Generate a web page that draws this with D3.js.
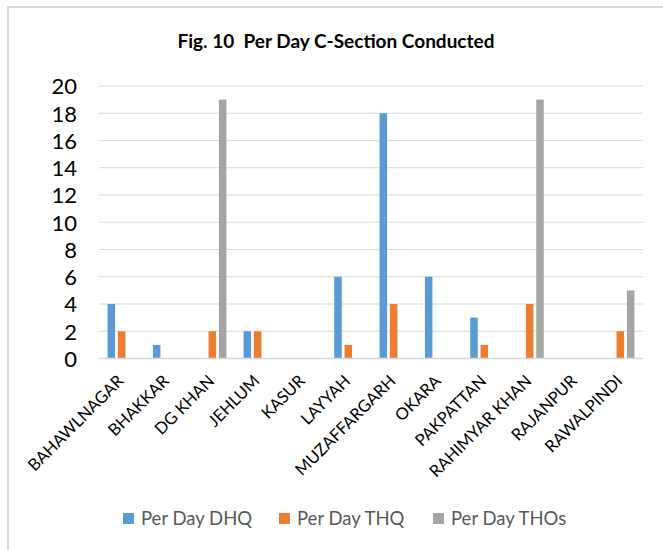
<!DOCTYPE html>
<html><head><meta charset="utf-8">
<script src="https://cdn.jsdelivr.net/npm/d3@7"></script>
<style>body{margin:0;background:#fff}svg{display:block}</style>
</head><body>
<svg id="c" width="663" height="550"></svg>
<script>
const categories = ["BAHAWLNAGAR","BHAKKAR","DG KHAN","JEHLUM","KASUR","LAYYAH","MUZAFFARGARH","OKARA","PAKPATTAN","RAHIMYAR KHAN","RAJANPUR","RAWALPINDI"];
const seriesNames = ["Per Day DHQ","Per Day THQ","Per Day THOs"];
const dhq = [4,1,0,2,0,6,18,6,3,0,0,0];
const thq = [2,0,2,2,0,1,4,0,1,4,0,2];
const thos = [0,0,19,0,0,0,0,0,0,19,0,5];
const yTicks = [0,2,4,6,8,10,12,14,16,18,20];
const colors = ["#5b9bd5","#ed7d31","#a5a5a5"];
const title = "Fig. 10  Per Day C-Section Conducted";

const seriesValues = [dhq, thq, thos];
const svg = d3.select("#c");
const font = "Lato, 'Open Sans', sans-serif";

// chart border (cropped on right and bottom)
svg.append("rect").attr("x",8).attr("y",7).attr("width",700).attr("height",600)
  .attr("fill","#fff").attr("stroke","#d9d9d9").attr("stroke-width",2);

const x0 = d3.scaleBand().domain(categories).range([99,643]).padding(0);
const x1 = d3.scaleBand().domain(seriesNames).range([-14.1,14.1]).paddingInner(0.27);
const y = d3.scaleLinear().domain([0,20]).range([358.5,86]);

// gridlines
svg.append("g").selectAll("line").data(yTicks.filter(d=>d>0)).join("line")
  .attr("x1",99).attr("x2",643).attr("y1",d=>y(d)).attr("y2",d=>y(d))
  .attr("stroke","#d9d9d9").attr("stroke-width",1);

// bars
const g = svg.append("g");
seriesNames.forEach((s,si)=>{
  g.append("g").selectAll("rect").data(categories.map((c,i)=>({c,v:seriesValues[si][i]})).filter(d=>d.v>0))
    .join("rect")
    .attr("x",d=>x0(d.c)+x0.bandwidth()/2+x1(s))
    .attr("width",x1.bandwidth())
    .attr("y",d=>y(d.v)).attr("height",d=>y(0)-y(d.v))
    .attr("fill",colors[si]);
});

// x axis line
svg.append("line").attr("x1",99).attr("x2",643).attr("y1",y(0)).attr("y2",y(0))
  .attr("stroke","#d9d9d9").attr("stroke-width",1.5);

// y axis labels
const yAxis = d3.axisLeft(y).tickValues(yTicks).tickSize(0).tickPadding(0);
const ya = svg.append("g").attr("transform","translate(77,0)").call(yAxis);
ya.select(".domain").remove();
ya.selectAll("text").attr("font-family",font).attr("font-size",22).attr("fill","#000").attr("dy","0.36em");

// x axis labels
const xAxis = d3.axisBottom(x0).tickSize(0).tickPadding(0);
const xa = svg.append("g").call(xAxis);
xa.select(".domain").remove();
xa.selectAll(".tick").attr("transform",d=>`translate(${x0(d)+x0.bandwidth()/2+3},382)`);
xa.selectAll("text").attr("font-family",font).attr("font-size",16.5).attr("fill","#000")
  .attr("text-anchor","end").attr("y",0).attr("dy",0).attr("transform","rotate(-45)");

// title
svg.append("text").attr("x",336).attr("y",48).attr("text-anchor","middle")
  .style("white-space","pre")
  .attr("font-family",font).attr("font-weight","bold").attr("font-size",19).attr("fill","#000").text(title);

// legend
const legX = [123,279,433];
const lg = svg.append("g").selectAll("g").data(seriesNames).join("g")
  .attr("transform",(d,i)=>`translate(${legX[i]},519)`);
lg.append("rect").attr("x",0).attr("y",-6).attr("width",11).attr("height",11).attr("fill",(d,i)=>colors[i]);
lg.append("text").attr("x",18).attr("y",0).attr("dy","0.35em").attr("font-family",font).attr("font-size",18.5)
  .attr("fill","#595959").text(d=>d);
</script>
</body></html>
